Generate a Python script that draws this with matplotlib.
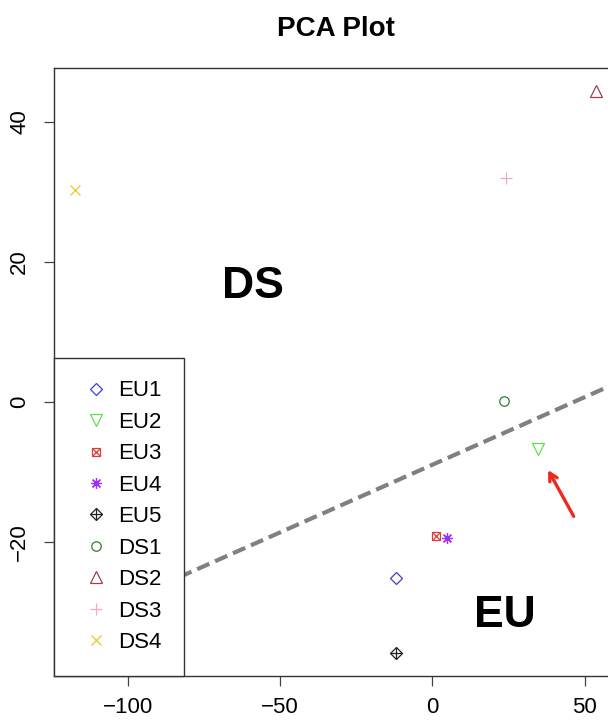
import matplotlib
matplotlib.use("Agg")
import matplotlib.pyplot as plt
from matplotlib.lines import Line2D

plt.rcParams['font.family'] = ['Liberation Sans', 'DejaVu Sans']

# sample scores on the first two components
samples = ['EU1', 'EU2', 'EU3', 'EU4', 'EU5', 'DS1', 'DS2', 'DS3', 'DS4']
pc1 = [-11.9, 34.8, 1.4, 4.7, -12.0, 23.6, 53.8, 24.2, -117.3]
pc2 = [-25.1, -6.8, -19.2, -19.5, -35.9, 0.1, 44.4, 31.9, 30.2]
colors = ['#3c3cd2', '#5ee04a', '#e03a3a', '#a030f0', '#222222',
          '#2f7f2f', '#a0404c', '#f3a9b9', '#eec52e']

# R-style symbols, some built from two overlaid markers
asterisk = (8, 2, 0)
symbols = [[('D', 6.1)], [('v', 8.0)], [('s', 6.4), ('x', 6.4)],
           [(asterisk, 7.8)], [('D', 6.1), ('+', 8.6)], [('o', 6.8)],
           [('^', 8.0)], [('+', 9.0)], [('x', 6.8)]]

# separating line y = a + b*x
line_a, line_b = -9.0, 0.193

fig = plt.figure(figsize=(6.08, 7.2), dpi=100)
ax = fig.add_axes([54 / 608, 44.3 / 720, 564 / 608, 607.4 / 720])
ax.set_xlim(-124.2, 61.0)
ax.set_ylim(-39.1, 47.6)

ax.axline((0, line_a), slope=line_b, color='#808080', lw=3.0,
          linestyle=(0, (3.2, 1.5)), zorder=1)

handles = []
for name, x, y, c, sym in zip(samples, pc1, pc2, colors, symbols):
    parts = []
    for m, ms in sym:
        ax.plot([x], [y], linestyle='none', marker=m, ms=ms, mfc='none',
                mec=c, mew=0.9, zorder=3)
        parts.append(Line2D([], [], linestyle='none', marker=m, ms=ms,
                            mfc='none', mec=c, mew=0.9))
    handles.append(tuple(parts))

ax.annotate('', xy=(37.6, -9.4), xytext=(46.9, -16.7),
            arrowprops=dict(arrowstyle='->,head_length=0.55,head_width=0.3',
                            color='#ee2a1a', lw=2.4))

ax.text(-58.8, 14.8, 'DS', fontsize=32, fontweight='bold',
        ha='center', va='baseline')
ax.text(23.9, -32.2, 'EU', fontsize=32, fontweight='bold',
        ha='center', va='baseline')

leg = ax.legend(handles, samples, loc='lower left', bbox_to_anchor=(0, 0),
                borderaxespad=0, fontsize=16, fancybox=False,
                edgecolor='#333333', framealpha=1, borderpad=1.02,
                handlelength=1.76, handletextpad=0.1, labelspacing=0.47)
leg.get_frame().set_linewidth(1.0)
leg.set_zorder(5)

ax.set_xticks([-100, -50, 0, 50])
ax.set_yticks([-20, 0, 20, 40])
ax.tick_params(direction='out', length=7.2, width=0.9, color='#444444',
               labelsize=16, pad=8)
ax.tick_params(axis='y', labelrotation=90, pad=10)
for lab in ax.get_yticklabels():
    lab.set_va('center')
for sp in ax.spines.values():
    sp.set_color('#333333')
    sp.set_linewidth(1.0)

ax.set_title('PCA Plot', fontsize=20, fontweight='bold', pad=23)

fig.savefig('out.png', dpi=100)
